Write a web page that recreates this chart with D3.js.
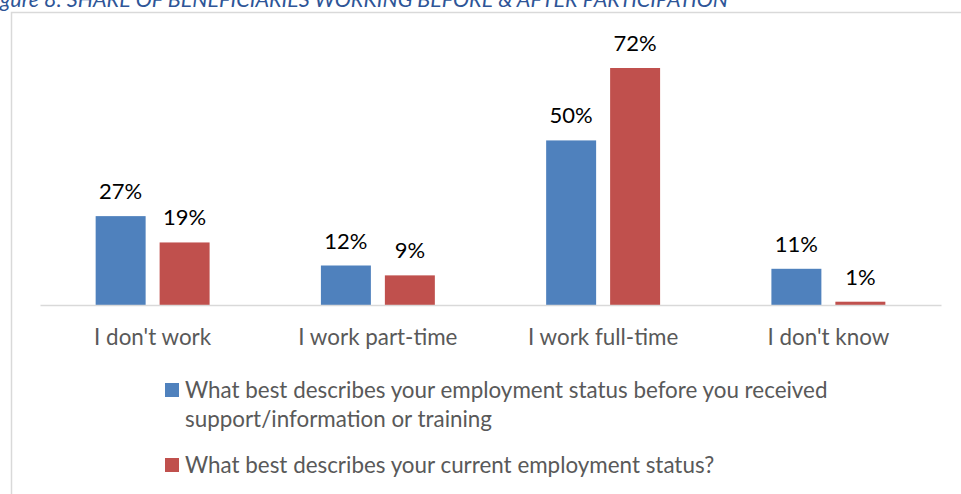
<!DOCTYPE html>
<html>
<head>
<meta charset="utf-8">
<script src="https://cdn.jsdelivr.net/npm/d3@7"></script>
<style>
  body { margin: 0; background: #fff; }
  svg { display: block; font-family: Lato, "Open Sans", sans-serif; }
</style>
</head>
<body>
<svg id="chart" width="961" height="494"></svg>
<script>
const categories = ["I don't work", "I work part-time", "I work full-time", "I don't know"];
const seriesNames = [
  ["What best describes your employment status before you received", "support/information or training"],
  ["What best describes your current employment status?"]
];
const before = [27, 12, 50, 11];
const current = [19, 9, 72, 1];
const colors = ["#4f81bd", "#c0504d"];

const svg = d3.select("svg#chart");
const baseY = 305;

// caption (cut off at the top of the page)
svg.append("text")
  .attr("x", 728).attr("y", 7)
  .attr("text-anchor", "end")
  .attr("fill", "#2e5597")
  .style("font-style", "italic")
  .style("font-size", "21.5px")
  .text("Figure 8: SHARE OF BENEFICIARIES WORKING BEFORE & AFTER PARTICIPATION");

// frame
svg.append("path")
  .attr("d", "M11.5,500 V12.5 H970")
  .attr("fill", "none")
  .attr("stroke", "#d9d9d9")
  .attr("stroke-width", 1.5);

const x = d3.scaleBand().domain(categories).range([40, 941]);
const x1 = d3.scaleBand().domain([0, 1]).range([0, x.bandwidth()])
  .paddingInner(0.21875).paddingOuter(0.87);
const y = d3.scaleLinear().domain([0, 72]).range([baseY, 68]);

const data = categories.map((c, i) => ({ cat: c, vals: [before[i], current[i]] }));

const groups = svg.append("g").selectAll(".grp").data(data).enter().append("g")
  .attr("transform", d => `translate(${x(d.cat)},0)`);

groups.selectAll("rect").data(d => d.vals).enter().append("rect")
  .attr("x", (v, i) => x1(i))
  .attr("width", x1.bandwidth())
  .attr("y", v => y(v))
  .attr("height", v => baseY - y(v))
  .attr("fill", (v, i) => colors[i]);

groups.selectAll(".lbl").data(d => d.vals).enter().append("text")
  .attr("class", "lbl")
  .attr("x", (v, i) => x1(i) + x1.bandwidth() / 2)
  .attr("y", v => y(v) - 17)
  .attr("text-anchor", "middle")
  .attr("fill", "#000")
  .style("font-size", "22px")
  .text(v => v + "%");

// axis
const axis = svg.append("g")
  .attr("transform", `translate(0,${baseY})`)
  .call(d3.axisBottom(x).tickSize(0).tickPadding(0));
axis.select(".domain").attr("stroke", "#d9d9d9").attr("stroke-width", 1.5);
axis.selectAll("text")
  .attr("dy", 0).attr("y", 40)
  .attr("fill", "#595959")
  .style("font-family", "Lato, 'Open Sans', sans-serif")
  .style("font-size", "22.4px");

// legend
const legend = svg.append("g");
const legY = [383, 458];
seriesNames.forEach((lines, i) => {
  legend.append("rect")
    .attr("x", 165).attr("y", legY[i])
    .attr("width", 14).attr("height", 14)
    .attr("fill", colors[i]);
  const t = legend.append("text")
    .attr("x", 185).attr("y", legY[i] + 15)
    .attr("fill", "#595959")
    .style("font-size", "22.4px");
  lines.forEach((line, j) => {
    t.append("tspan").attr("x", 185).attr("dy", j === 0 ? 0 : 29).text(line);
  });
});
</script>
</body>
</html>
